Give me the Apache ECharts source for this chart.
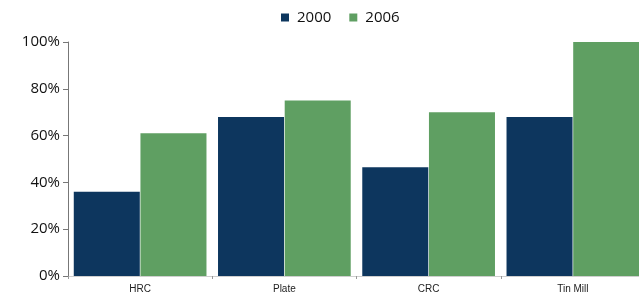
<!DOCTYPE html>
<html>
<head>
<meta charset="utf-8">
<script src="https://cdn.jsdelivr.net/npm/echarts@6/dist/echarts.min.js"></script>
<style>
  html, body { margin: 0; padding: 0; background: #fff; overflow: hidden; }
</style>
</head>
<body>
<!-- chart area runs a few px past the window, as in the source image -->
<div id="main" style="width: 645px;height:302px;"></div>
<script type="text/javascript">
    var categories = ['HRC', 'Plate', 'CRC', 'Tin Mill'];
    var series2000 = [36, 68, 46.5, 68];
    var series2006 = [61, 75, 70, 100];
    var yTicks = [0, 20, 40, 60, 80, 100];

    var myChart = echarts.init(document.getElementById('main'));
    var option = {
        color: ['#0d365e', '#5f9f62'],
        animation: false,
        legend: {
            top: 5,
            left: 276,
            itemWidth: 8,
            itemHeight: 8,
            itemGap: 18,
            icon: 'rect',
            textStyle: { fontFamily: 'Open Sans', fontSize: 15, color: '#111', padding: [0, 0, 0, 3] },
            data: ['2000', '2006']
        },
        grid: {
            left: 68,
            right: 0,
            top: 42,
            bottom: 26,
            containLabel: false
        },
        xAxis: {
            type: 'category',
            data: categories,
            axisLine: { lineStyle: { color: '#cfcfcf' } },
            axisTick: { show: true, length: 3, lineStyle: { color: '#999' } },
            axisLabel: { fontFamily: 'Liberation Sans', fontSize: 10, color: '#222', margin: 8 }
        },
        yAxis: {
            type: 'value',
            min: yTicks[0],
            max: yTicks[yTicks.length - 1],
            interval: 20,
            splitLine: { show: false },
            axisLine: { show: true, lineStyle: { color: '#777' } },
            axisTick: { show: true, length: 5, lineStyle: { color: '#777' } },
            axisLabel: {
                fontFamily: 'Open Sans', fontSize: 15, color: '#111', margin: 8,
                formatter: function (v) { return v + '%'; }
            }
        },
        series: [
            {
                name: '2000',
                type: 'bar',
                barGap: '1%',
                barCategoryGap: '8%',
                data: series2000
            },
            {
                name: '2006',
                type: 'bar',
                barGap: '1%',
                barCategoryGap: '8%',
                data: series2006
            }
        ]
    };
    myChart.setOption(option);
</script>
</body>
</html>
